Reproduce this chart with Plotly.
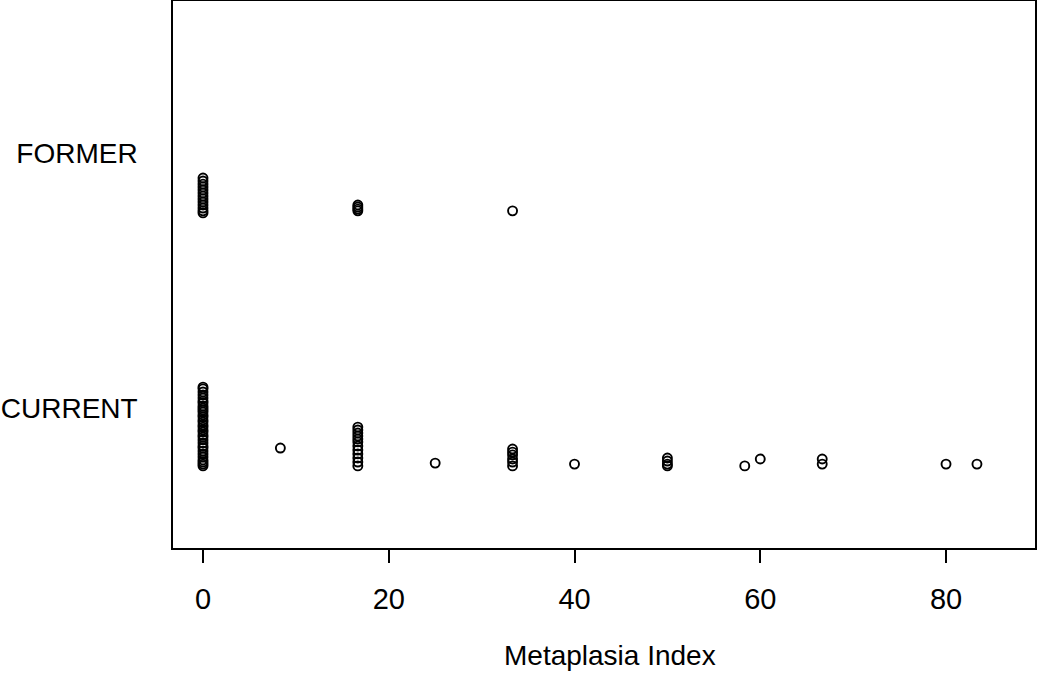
import plotly.graph_objects as go

# Data (group: 1 = CURRENT, 2 = FORMER)
group_labels = ["CURRENT", "FORMER"]
group_pos = [1, 2]

# FORMER values and their vertical jitter offsets
former_x = [0]*13 + [16.67]*4 + [33.33]
former_jit = [-0.098, -0.110, -0.122, -0.133, -0.145, -0.157, -0.169, -0.180,
              -0.192, -0.204, -0.216, -0.227, -0.235,
              -0.204, -0.212, -0.220, -0.227,
              -0.227]

# CURRENT values and their vertical jitter offsets
current_x = ([0]*32 + [8.33] + [16.67]*12 + [25] + [33.33]*6 + [40] +
             [50]*4 + [58.33] + [60] + [66.67]*2 + [80] + [83.33])
current_jit = [0.082, 0.075, 0.063, 0.051, 0.039, 0.027, 0.020, 0.008, 0.000,
               -0.008, -0.016, -0.027, -0.035, -0.047, -0.055, -0.067, -0.075,
               -0.086, -0.094, -0.106, -0.114, -0.125, -0.137, -0.149, -0.157,
               -0.169, -0.180, -0.192, -0.204, -0.212, -0.220, -0.227,
               -0.157,
               -0.075, -0.086, -0.098, -0.110, -0.122, -0.133, -0.149, -0.165,
               -0.180, -0.196, -0.212, -0.227,
               -0.216,
               -0.161, -0.173, -0.184, -0.200, -0.212, -0.227,
               -0.220,
               -0.196, -0.208, -0.220, -0.227,
               -0.227,
               -0.200,
               -0.200, -0.220,
               -0.220,
               -0.220]

x_ticks = [0, 20, 40, 60, 80]

marker = dict(symbol="circle-open", size=9, color="black", line=dict(width=1.9, color="black"))

fig = go.Figure()
fig.add_trace(go.Scatter(x=former_x, y=[group_pos[1] + j for j in former_jit],
                         mode="markers", marker=marker, showlegend=False))
fig.add_trace(go.Scatter(x=current_x, y=[group_pos[0] + j for j in current_jit],
                         mode="markers", marker=marker, showlegend=False))

font = dict(family="Liberation Sans, Arial, sans-serif", size=28, color="black")
tick_font = dict(family="Liberation Sans, Arial, sans-serif", size=29, color="black")

fig.update_layout(
    width=1050, height=673,
    margin=dict(l=173, r=15, t=1, b=125),
    plot_bgcolor="white", paper_bgcolor="white",
    font=font,
    xaxis=dict(range=[-3.23, 89.58], tickvals=x_ticks, ticks="outside", ticklen=13,
               tickwidth=1.5, tickcolor="black", showline=True, linecolor="black",
               linewidth=1.5, mirror=True, showgrid=False, zeroline=False,
               ticklabelstandoff=11, tickfont=tick_font, automargin=False),
    yaxis=dict(range=[0.451, 2.596], tickvals=group_pos, ticktext=group_labels,
               ticks="", showline=True, linecolor="black", linewidth=1.5, mirror=True,
               showgrid=False, zeroline=False, ticklabelstandoff=28, tickfont=font,
               automargin=False),
    annotations=[dict(text="Metaplasia Index", xref="paper", yref="paper",
                      x=(610 - 173) / 862, y=-(655 - 548) / 547, xanchor="center",
                      yanchor="middle", showarrow=False, font=font)],
)

fig.write_html("out.html", config={"displayModeBar": False},
               post_script="document.body.style.margin='0';document.body.style.overflow='hidden';")
